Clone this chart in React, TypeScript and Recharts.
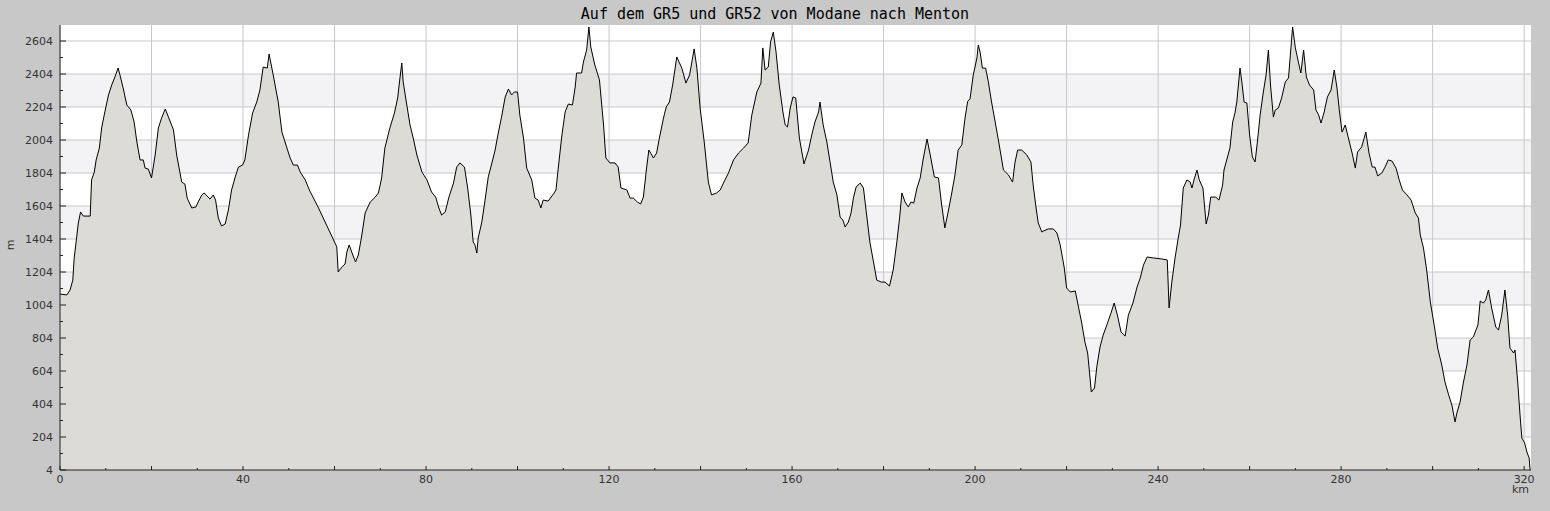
import { Area, AreaChart, CartesianGrid, XAxis, YAxis } from "recharts";

// Elevation profile (km along the trail, metres)
const KM = [
  0, 1.5, 2.2, 2.8, 3.1, 3.7, 4.0, 4.5, 5.1, 6.6, 6.9, 7.5, 7.9, 8.6, 9.1, 9.8, 10.6, 11.3, 12.0, 12.7,
  13.1, 13.8, 14.6, 15.5, 16.2, 16.8, 17.5, 18.2, 18.6, 19.3, 20.0, 20.8, 21.5, 22.2, 23.0, 23.7, 24.8, 25.5, 26.6, 27.3,
  27.8, 28.8, 29.7, 30.2, 31.0, 31.5, 32.8, 33.5, 34.0, 34.6, 35.3, 36.1, 36.8, 37.5, 38.3, 39.0, 39.9, 40.4, 41.2, 42.1,
  43.0, 43.7, 44.4, 45.3, 45.7, 46.6, 47.7, 48.5, 49.6, 50.3, 51.0, 51.9, 52.5, 53.6, 54.5, 56.5, 60.5, 60.8, 61.6, 62.3,
  62.7, 63.2, 64.0, 64.6, 65.2, 65.9, 66.7, 67.8, 68.9, 69.6, 70.3, 71.0, 72.1, 73.1, 73.8, 74.3, 74.7, 75.0, 75.8, 76.5,
  77.2, 78.0, 79.1, 80.2, 81.2, 82.1, 82.8, 83.4, 84.2, 85.0, 86.0, 86.7, 87.4, 88.4, 89.1, 89.8, 90.3, 90.7, 91.1, 91.4,
  92.2, 92.9, 93.6, 94.4, 95.1, 95.7, 96.5, 97.3, 98.0, 98.7, 99.3, 100.0, 100.5, 101.3, 102.0, 103.1, 103.8, 104.5, 105.1, 105.6,
  106.7, 108.0, 108.4, 108.9, 109.7, 110.4, 111.1, 112.0, 112.6, 112.9, 114.0, 114.4, 115.1, 115.6, 116.0, 116.9, 117.9, 118.8, 119.3, 120.2,
  121.3, 122.0, 122.6, 123.9, 124.6, 125.3, 126.2, 126.9, 127.5, 128.2, 128.7, 129.7, 130.4, 131.0, 131.9, 132.5, 133.2, 133.9, 134.8, 135.9,
  136.8, 137.6, 138.1, 138.6, 139.2, 139.9, 140.8, 141.7, 142.4, 143.5, 144.3, 145.0, 146.1, 147.2, 148.3, 149.4, 150.4, 151.2, 152.3, 153.2,
  153.6, 154.1, 154.8, 155.3, 155.9, 156.5, 157.2, 158.0, 158.5, 159.0, 159.6, 160.2, 160.8, 161.6, 162.6, 163.6, 164.3, 165.0, 165.8, 166.1,
  166.8, 167.6, 168.3, 169.0, 169.8, 170.5, 171.1, 171.6, 172.3, 172.9, 173.4, 174.0, 174.9, 175.6, 176.3, 177.0, 177.8, 178.5, 179.5, 180.3,
  181.3, 182.1, 182.9, 183.5, 184.0, 184.7, 185.4, 186.0, 186.6, 187.3, 188.0, 188.7, 189.5, 190.2, 191.1, 192.0, 192.7, 193.4, 194.2, 194.9,
  195.6, 196.3, 197.1, 197.8, 198.4, 198.9, 199.6, 200.4, 200.7, 201.1, 201.6, 202.3, 202.9, 203.6, 204.4, 205.2, 206.2, 207.3, 208.2, 208.7,
  209.3, 210.2, 211.3, 212.2, 212.7, 213.3, 213.8, 214.6, 214.9, 216.0, 217.1, 217.9, 218.6, 219.5, 220.0, 220.8, 221.9, 222.6, 223.3, 224.0,
  224.6, 225.0, 225.4, 226.1, 226.6, 227.3, 228.0, 228.8, 229.7, 230.4, 231.1, 231.9, 232.8, 233.5, 234.5, 235.4, 236.1, 236.8, 237.6, 239.0,
  240.8, 242.0, 242.4, 243.0, 243.7, 244.4, 244.9, 245.5, 246.3, 247.0, 247.4, 247.9, 248.5, 249.0, 249.8, 250.5, 251.0, 251.5, 252.6, 253.3,
  254.1, 254.4, 255.4, 255.7, 256.3, 256.8, 257.2, 257.9, 258.3, 258.8, 259.4, 260.0, 260.6, 261.2, 261.7, 262.3, 263.0, 263.6, 264.1, 264.6,
  265.2, 265.6, 266.3, 267.0, 267.8, 268.5, 268.9, 269.4, 270.0, 270.7, 271.2, 271.8, 272.4, 273.1, 274.0, 274.5, 275.1, 275.6, 276.3, 277.0,
  277.8, 278.5, 279.1, 279.6, 280.2, 280.9, 281.7, 282.4, 283.1, 283.6, 284.5, 285.4, 286.1, 286.8, 287.4, 288.0, 288.9, 289.6, 290.3, 291.1,
  292.0, 292.7, 293.4, 294.4, 295.3, 296.2, 296.9, 297.3, 298.0, 298.7, 299.5, 300.4, 301.1, 302.0, 302.7, 303.5, 304.2, 304.9, 305.3, 306.0,
  306.7, 307.5, 308.2, 308.9, 309.9, 310.4, 311.1, 311.6, 312.2, 312.9, 313.8, 314.4, 315.1, 315.8, 316.4, 316.9, 317.7, 318.0, 318.6, 319.1,
  319.5, 320.1, 320.6, 321.1, 321.3,
];

const ELEV = [
  1070, 1065, 1095, 1155, 1289, 1428, 1501, 1568, 1543, 1543, 1762, 1810, 1883, 1955, 2077, 2174, 2277, 2337, 2386, 2440,
  2398, 2319, 2216, 2186, 2113, 1992, 1883, 1883, 1834, 1828, 1774, 1913, 2077, 2137, 2192, 2143, 2065, 1913, 1749, 1737,
  1652, 1592, 1598, 1628, 1671, 1683, 1646, 1671, 1640, 1531, 1483, 1495, 1580, 1701, 1780, 1840, 1852, 1883, 2034, 2168,
  2234, 2307, 2446, 2440, 2525, 2398, 2234, 2052, 1955, 1895, 1852, 1852, 1810, 1762, 1701, 1592, 1356, 1204, 1234, 1252,
  1325, 1368, 1307, 1265, 1307, 1416, 1562, 1628, 1658, 1683, 1774, 1955, 2077, 2168, 2259, 2380, 2471, 2356, 2216, 2095,
  2016, 1913, 1810, 1762, 1689, 1658, 1592, 1549, 1568, 1658, 1743, 1840, 1865, 1840, 1713, 1549, 1386, 1368, 1319, 1410,
  1507, 1640, 1780, 1865, 1943, 2034, 2143, 2265, 2313, 2277, 2295, 2295, 2155, 2016, 1834, 1762, 1652, 1640, 1592, 1640,
  1634, 1683, 1701, 1834, 2034, 2174, 2222, 2216, 2325, 2410, 2410, 2477, 2549, 2689, 2568, 2458, 2368, 2095, 1895, 1865,
  1865, 1840, 1713, 1701, 1652, 1652, 1628, 1616, 1658, 1834, 1943, 1895, 1925, 2016, 2137, 2204, 2234, 2337, 2507, 2440,
  2349, 2398, 2477, 2556, 2440, 2198, 1992, 1749, 1671, 1683, 1701, 1743, 1804, 1883, 1925, 1955, 1986, 2155, 2295, 2349,
  2562, 2428, 2446, 2598, 2658, 2537, 2337, 2174, 2095, 2083, 2198, 2265, 2259, 2016, 1859, 1943, 2034, 2113, 2174, 2234,
  2095, 1992, 1871, 1749, 1671, 1537, 1519, 1477, 1507, 1562, 1652, 1719, 1743, 1713, 1549, 1386, 1265, 1155, 1143, 1143,
  1119, 1216, 1386, 1531, 1683, 1628, 1598, 1628, 1622, 1713, 1774, 1895, 2010, 1913, 1780, 1774, 1610, 1471, 1580, 1683,
  1792, 1943, 1974, 2137, 2240, 2253, 2398, 2501, 2580, 2537, 2440, 2440, 2356, 2234, 2113, 1986, 1822, 1792, 1749, 1865,
  1943, 1943, 1913, 1871, 1731, 1598, 1501, 1446, 1452, 1465, 1465, 1440, 1368, 1228, 1107, 1083, 1089, 992, 895, 780,
  713, 598, 477, 501, 628, 749, 822, 883, 955, 1016, 943, 840, 816, 943, 1016, 1113, 1168, 1246, 1295, 1289,
  1283, 1277, 986, 1143, 1289, 1410, 1489, 1713, 1762, 1749, 1713, 1768, 1822, 1762, 1713, 1495, 1549, 1658, 1658, 1640,
  1731, 1822, 1925, 1955, 2113, 2168, 2234, 2440, 2356, 2234, 2228, 2034, 1901, 1871, 1992, 2155, 2295, 2398, 2549, 2325,
  2143, 2186, 2198, 2259, 2356, 2380, 2519, 2689, 2562, 2471, 2410, 2549, 2386, 2337, 2307, 2186, 2155, 2107, 2174, 2265,
  2307, 2428, 2319, 2186, 2052, 2095, 2004, 1925, 1834, 1931, 1962, 2052, 1925, 1840, 1840, 1786, 1804, 1840, 1883, 1877,
  1834, 1762, 1701, 1671, 1640, 1562, 1531, 1428, 1349, 1216, 1022, 871, 743, 640, 537, 459, 398, 295, 349, 416,
  531, 640, 792, 810, 883, 1028, 1016, 1034, 1095, 986, 871, 852, 943, 1095, 943, 743, 713, 731, 537, 337,
  198, 168, 113, 77, 4,
];

const X_TICKS = [0, 10, 20, 30, 40, 50, 60, 70, 80, 90, 100, 110, 120, 130, 140, 150, 160, 170, 180, 190, 200, 210, 220, 230, 240, 250, 260, 270, 280, 290, 300, 310, 320];
const X_GRID = [0, 20, 40, 60, 80, 100, 120, 140, 160, 180, 200, 220, 240, 260, 280, 300, 320];
const Y_TICKS = [4, 104, 204, 304, 404, 504, 604, 704, 804, 904, 1004, 1104, 1204, 1304, 1404, 1504, 1604, 1704, 1804, 1904, 2004, 2104, 2204, 2304, 2404, 2504, 2604];
const Y_GRID = [4, 204, 404, 604, 804, 1004, 1204, 1404, 1604, 1804, 2004, 2204, 2404, 2604];

// stripes from the top edge down: top..2604, 2604..2404, 2404..2204, ...
const W = "#ffffff";
const S = "#f3f2f5";
const BAND_FILLS = [W, W, S, W, S, W, S, W, S, W, S, W, S, W];

const profile = KM.map((km, i) => ({ km, elev: ELEV[i] }));

function XTick(props: any) {
  const { x, y, payload } = props;
  const v = payload.value;
  const major = v % 20 === 0;
  return (
    <g>
      <line x1={x} x2={x} y1={y} y2={y - (major ? 4 : 2)} stroke="#222" />
      {v % 40 === 0 && (
        <text x={x} y={y + 13} textAnchor="middle" fontSize={11} fill="#333" fontFamily="DejaVu Sans">
          {v}
        </text>
      )}
    </g>
  );
}

function YTick(props: any) {
  const { x, y, payload } = props;
  const v = payload.value;
  const major = (v - 4) % 200 === 0;
  return (
    <g>
      <line x1={x} x2={x + (major ? 6 : 3)} y1={y} y2={y} stroke="#222" />
      {major && (
        <text x={x - 7} y={y + 4} textAnchor="end" fontSize={11} fill="#333" fontFamily="DejaVu Sans">
          {v}
        </text>
      )}
    </g>
  );
}

export default function App() {
  return (
    <div
      style={{
        position: "absolute",
        left: 0,
        top: 0,
        width: 1550,
        height: 511,
        background: "#c8c8c8",
        fontFamily: "DejaVu Sans",
        overflow: "hidden",
      }}
    >
      <style>{"html,body{margin:0;background:#c8c8c8;overflow:hidden}"}</style>
      <AreaChart width={1550} height={511} data={profile} margin={{ top: 25, right: 19, bottom: 0, left: 0 }}>
        <CartesianGrid
          stroke="#c8c8c8"
          horizontalValues={Y_GRID}
          verticalValues={X_GRID}
          horizontalFill={BAND_FILLS}
          fillOpacity={1}
        />
        <XAxis
          dataKey="km"
          type="number"
          domain={[0, 321.5]}
          ticks={X_TICKS}
          interval={0}
          tick={XTick}
          tickLine={false}
          tickSize={0}
          tickMargin={0}
          axisLine={{ stroke: "#222" }}
          height={41}
          allowDataOverflow
        />
        <YAxis
          type="number"
          domain={[4, 2701]}
          ticks={Y_TICKS}
          interval={0}
          tick={YTick}
          tickLine={false}
          tickSize={0}
          tickMargin={0}
          axisLine={{ stroke: "#222" }}
          width={60}
          allowDataOverflow
        />
        <Area
          dataKey="elev"
          type="linear"
          stroke="#000"
          strokeWidth={1}
          fill="#dcdbd6"
          fillOpacity={1}
          dot={false}
          activeDot={false}
          isAnimationActive={false}
        />
      </AreaChart>
      <div
        style={{
          position: "absolute",
          left: 0,
          top: 0,
          width: 1550,
          height: 25,
          lineHeight: "28px",
          textAlign: "center",
          fontFamily: "DejaVu Sans Mono",
          fontSize: 15,
          color: "#000",
          background: "#c8c8c8",
        }}
      >
        Auf dem GR5 und GR52 von Modane nach Menton
      </div>
      <div
        style={{
          position: "absolute",
          left: 1512,
          top: 483,
          fontSize: 11,
          lineHeight: "14px",
          color: "#333",
        }}
      >
        km
      </div>
      <div
        style={{
          position: "absolute",
          left: 5,
          top: 238,
          width: 12,
          fontSize: 11,
          lineHeight: "14px",
          textAlign: "center",
          color: "#333",
          transform: "rotate(-90deg)",
        }}
      >
        m
      </div>
    </div>
  );
}
